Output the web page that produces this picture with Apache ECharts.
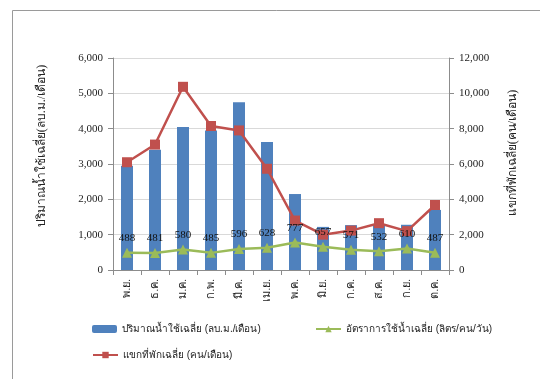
<!DOCTYPE html>
<html>
<head>
<meta charset="utf-8">
<script src="https://cdn.jsdelivr.net/npm/echarts@6/dist/echarts.min.js"></script>
<style>
  html, body { margin: 0; padding: 0; background: #fff; }
  #chart { width: 540px; height: 379px; }
</style>
</head>
<body>
<div id="chart"></div>
<script>
// Monthly categories (Thai month abbreviations)
const months = ['พ.ย.', 'ธ.ค.', 'ม.ค.', 'ก.พ.', 'มี.ค.', 'เม.ย.', 'พ.ค.', 'มิ.ย.', 'ก.ค.', 'ส.ค.', 'ก.ย.', 'ต.ค.'];
// Average water use (cubic metres / month) - left axis
const waterUse = [2950, 3400, 4050, 3950, 4750, 3620, 2150, 1220, 1270, 1250, 1280, 1700];
// Average usage rate (litres / person / day) - left axis
const usageRate = [488, 481, 580, 485, 596, 628, 777, 657, 571, 532, 610, 487];
// Average guests (persons / month) - right axis
const guests = [6100, 7100, 10370, 8150, 7900, 5730, 2800, 2000, 2230, 2650, 2200, 3680];

const leftAxisMax = 6000, leftInterval = 1000;
const rightAxisMax = 12000, rightInterval = 2000;

const serif = "'Liberation Serif', 'Times New Roman', serif";
const sans = "'Liberation Sans', 'Noto Sans', sans-serif";
const axisGray = '#8c8c8c';
const gridGray = '#d9d9d9';

const names = {
  water: 'ปริมาณน้ำใช้เฉลี่ย (ลบ.ม./เดือน)',
  rate: 'อัตราการใช้น้ำเฉลี่ย (ลิตร/คน/วัน)',
  guests: 'แขกที่พักเฉลี่ย (คน/เดือน)'
};
const leftTitle = 'ปริมาณน้ำใช้เฉลี่ย(ลบ.ม./เดือน)';
const rightTitle = 'แขกที่พักเฉลี่ย(คน/เดือน)';

const chart = echarts.init(document.getElementById('chart'), null, { renderer: 'canvas' });

const numFmt = v => v.toLocaleString('en-US');
const legendText = { fontFamily: sans, fontSize: 10, color: '#222' };

chart.setOption({
  animation: false,
  backgroundColor: '#ffffff',
  graphic: [
    { type: 'line', shape: { x1: 12.5, y1: 10.5, x2: 540, y2: 10.5 }, style: { stroke: '#9a9a9a', lineWidth: 1 } },
    { type: 'line', shape: { x1: 12.5, y1: 10.5, x2: 12.5, y2: 379 }, style: { stroke: '#9a9a9a', lineWidth: 1 } },
    // Rotated axis titles
    {
      type: 'text', x: 42, y: 146, rotation: Math.PI / 2,
      style: { text: leftTitle, fontFamily: serif, fontSize: 12, fill: '#222', align: 'center', verticalAlign: 'middle' }
    },
    {
      type: 'text', x: 513, y: 153, rotation: Math.PI / 2,
      style: { text: rightTitle, fontFamily: serif, fontSize: 12, fill: '#222', align: 'center', verticalAlign: 'middle' }
    }
  ],
  grid: { left: 113, right: 91, top: 58, bottom: 109, containLabel: false },
  legend: [
    { left: 87, top: 319, itemWidth: 25, itemHeight: 8, textStyle: legendText, data: [names.water] },
    { left: 310, top: 319, itemWidth: 25, itemHeight: 8, textStyle: legendText, data: [names.rate] },
    { left: 87, top: 345, itemWidth: 25, itemHeight: 8, textStyle: legendText, data: [names.guests] }
  ],
  xAxis: {
    type: 'category',
    data: months,
    axisLine: { lineStyle: { color: axisGray } },
    axisTick: { show: true, length: 5, lineStyle: { color: axisGray } },
    axisLabel: { rotate: 90, interval: 0, fontFamily: serif, fontSize: 11, color: '#222', margin: 9 },
    splitLine: { show: false }
  },
  yAxis: [
    {
      type: 'value', min: 0, max: leftAxisMax, interval: leftInterval,
      axisLine: { show: true, lineStyle: { color: axisGray } },
      axisTick: { show: true, length: 5, lineStyle: { color: axisGray } },
      axisLabel: { fontFamily: serif, fontSize: 11, color: '#222', formatter: numFmt, margin: 10 },
      splitLine: { lineStyle: { color: gridGray } }
    },
    {
      type: 'value', min: 0, max: rightAxisMax, interval: rightInterval,
      axisLine: { show: true, lineStyle: { color: axisGray } },
      axisTick: { show: true, length: 5, lineStyle: { color: axisGray } },
      axisLabel: { fontFamily: serif, fontSize: 11, color: '#222', formatter: numFmt, margin: 10 },
      splitLine: { show: false }
    }
  ],
  series: [
    {
      name: names.water, type: 'bar', yAxisIndex: 0, data: waterUse,
      barWidth: 12,
      itemStyle: { color: '#4F81BD' }
    },
    {
      name: names.guests, type: 'line', yAxisIndex: 1, data: guests,
      symbol: 'rect', symbolSize: 10,
      lineStyle: { color: '#C0504D', width: 2.5 },
      itemStyle: { color: '#C0504D' },
      z: 3
    },
    {
      name: names.rate, type: 'line', yAxisIndex: 0, data: usageRate,
      symbol: 'triangle', symbolSize: 10,
      lineStyle: { color: '#9BBB59', width: 2.5 },
      itemStyle: { color: '#9BBB59' },
      label: { show: true, position: 'top', distance: 4, fontFamily: serif, fontSize: 11, color: '#111' },
      z: 4
    }
  ]
});
</script>
</body>
</html>
